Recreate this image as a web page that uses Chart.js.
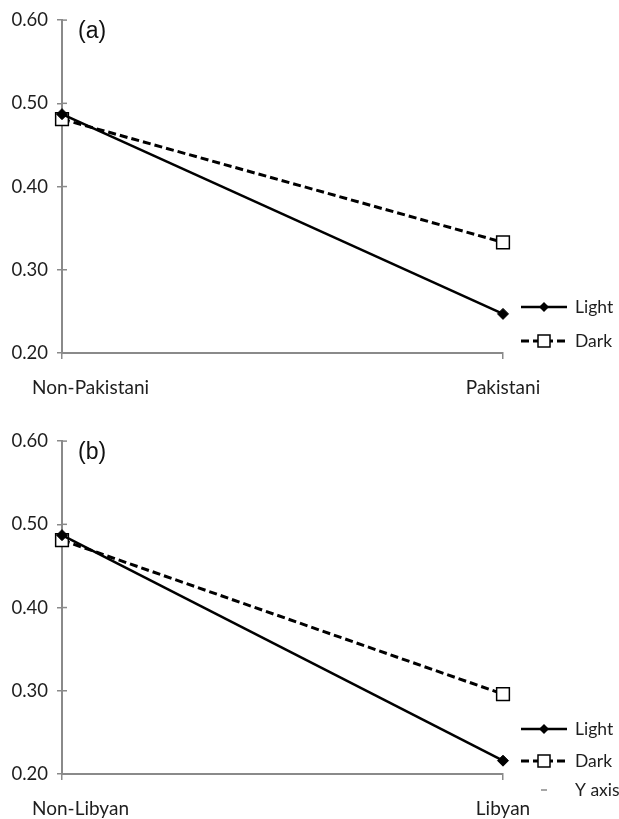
<!DOCTYPE html>
<html>
<head>
<meta charset="utf-8">
<script src="https://cdn.jsdelivr.net/npm/chart.js@4.4.1/dist/chart.umd.min.js"></script>
<style>
  html, body { margin: 0; padding: 0; background: #fff; }
  .panel { position: absolute; left: 0; width: 619px; height: 410px; }
  #wrapA { top: 0; }
  #wrapB { top: 421px; }
</style>
</head>
<body>
<div class="panel" id="wrapA"><canvas id="chartA" width="619" height="410"></canvas></div>
<div class="panel" id="wrapB"><canvas id="chartB" width="619" height="410"></canvas></div>
<script>
// Panel (a)
const categoriesA = ['Non-Pakistani', 'Pakistani'];
const lightA = [0.487, 0.247];
const darkA = [0.481, 0.333];

// Panel (b)
const categoriesB = ['Non-Libyan', 'Libyan'];
const lightB = [0.487, 0.216];
const darkB = [0.481, 0.296];

// Shared y axis
const yMin = 0.2;
const yMax = 0.6;
const yStep = 0.1;

const seriesNames = ['Light', 'Dark'];
const extraLegendB = 'Y axis';

const FONT = 'Lato, "Open Sans", sans-serif';
const AXIS_GREY = '#8a8a8a';
const TEXT = '#1e1e1e';
const DASH = [8, 4];

// Small inward halves of the y tick marks, panel letter, x labels and legend
const decorPlugin = {
  id: 'decor',
  afterDraw(chart, args, opts) {
    const ctx = chart.ctx;
    const area = chart.chartArea;
    const ys = chart.scales.y;
    const xs = chart.scales.x;
    ctx.save();
    // inward halves of y ticks
    ctx.strokeStyle = AXIS_GREY;
    ctx.lineWidth = 1.5;
    ys.ticks.forEach((t, i) => {
      const py = ys.getPixelForTick(i);
      ctx.beginPath();
      ctx.moveTo(area.left, py);
      ctx.lineTo(area.left + 5, py);
      ctx.stroke();
    });
    // panel letter
    ctx.fillStyle = '#111';
    ctx.font = '23px "Liberation Sans", Arial, sans-serif';
    ctx.textAlign = 'left';
    ctx.textBaseline = 'middle';
    ctx.fillText(opts.letter, area.left + 16, area.top + 12);
    // category labels
    ctx.fillStyle = TEXT;
    ctx.font = '19px ' + FONT;
    const labels = chart.data.labels;
    labels.forEach((lab, i) => {
      const px = xs.getPixelForValue(i);
      if (i === 0) {
        ctx.textAlign = 'left';
        ctx.fillText(lab, px - 30, area.bottom + 35);
      } else {
        ctx.textAlign = 'center';
        ctx.fillText(lab, px, area.bottom + 35);
      }
    });
    // legend
    const lx0 = area.right + 18, lx1 = area.right + 64, lxm = (lx0 + lx1) / 2;
    const tx = area.right + 72;
    ctx.textAlign = 'left';
    opts.legend.forEach(item => {
      const y = area.bottom + item.dy;
      ctx.strokeStyle = '#000';
      if (item.kind === 'light') {
        ctx.lineWidth = 2.5;
        ctx.setLineDash([]);
        ctx.beginPath(); ctx.moveTo(lx0, y); ctx.lineTo(lx1, y); ctx.stroke();
        ctx.fillStyle = '#000';
        ctx.beginPath();
        ctx.moveTo(lxm, y - 5); ctx.lineTo(lxm + 5, y); ctx.lineTo(lxm, y + 5); ctx.lineTo(lxm - 5, y);
        ctx.closePath(); ctx.fill();
      } else if (item.kind === 'dark') {
        ctx.lineWidth = 3;
        ctx.setLineDash(DASH);
        ctx.beginPath(); ctx.moveTo(lx0, y); ctx.lineTo(lx1, y); ctx.stroke();
        ctx.setLineDash([]);
        ctx.fillStyle = '#fff';
        ctx.lineWidth = 1.5;
        ctx.fillRect(lxm - 6, y - 6, 12, 12);
        ctx.strokeRect(lxm - 6, y - 6, 12, 12);
      } else {
        ctx.strokeStyle = AXIS_GREY;
        ctx.lineWidth = 1.5;
        ctx.setLineDash([]);
        ctx.beginPath(); ctx.moveTo(lxm - 3, y); ctx.lineTo(lxm + 3, y); ctx.stroke();
      }
      ctx.fillStyle = TEXT;
      ctx.font = '17.5px ' + FONT;
      ctx.textBaseline = 'middle';
      ctx.fillText(item.text, tx, y);
    });
    ctx.restore();
  }
};

function makeChart(id, categories, light, dark, letter, legend) {
  return new Chart(document.getElementById(id), {
    type: 'line',
    data: {
      labels: categories,
      datasets: [
        {
          label: seriesNames[0],
          data: light,
          borderColor: '#000',
          borderWidth: 2.5,
          pointStyle: 'rectRot',
          pointRadius: 5.5,
          pointBackgroundColor: '#000',
          pointBorderColor: '#000',
          pointBorderWidth: 1,
          tension: 0
        },
        {
          label: seriesNames[1],
          data: dark,
          borderColor: '#000',
          borderWidth: 3,
          borderDash: DASH,
          pointStyle: 'rect',
          pointRadius: 9,
          pointBackgroundColor: '#fff',
          pointBorderColor: '#000',
          pointBorderWidth: 1.5,
          tension: 0
        }
      ]
    },
    options: {
      responsive: false,
      animation: false,
      events: [],
      layout: { padding: { left: 0, top: 13, right: 116, bottom: 0 } },
      plugins: {
        legend: { display: false },
        tooltip: { enabled: false },
        decor: { letter: letter, legend: legend }
      },
      scales: {
        x: {
          type: 'category',
          offset: false,
          afterFit(scale) { scale.height = 57; },
          grid: { drawOnChartArea: false, drawTicks: true, tickLength: 6, color: AXIS_GREY, lineWidth: 1.5 },
          border: { color: AXIS_GREY, width: 2 },
          ticks: { display: false }
        },
        y: {
          min: yMin,
          max: yMax,
          afterFit(scale) { scale.width = 62; },
          grid: { drawOnChartArea: false, drawTicks: true, tickLength: 5, color: AXIS_GREY, lineWidth: 1.5 },
          border: { color: AXIS_GREY, width: 2 },
          ticks: {
            stepSize: yStep,
            padding: 9,
            color: TEXT,
            font: { family: FONT, size: 18.5 },
            callback: v => v.toFixed(2)
          }
        }
      }
    },
    plugins: [decorPlugin]
  });
}

makeChart('chartA', categoriesA, lightA, darkA, '(a)', [
  { kind: 'light', text: seriesNames[0], dy: -46 },
  { kind: 'dark', text: seriesNames[1], dy: -12 }
]);
makeChart('chartB', categoriesB, lightB, darkB, '(b)', [
  { kind: 'light', text: seriesNames[0], dy: -45 },
  { kind: 'dark', text: seriesNames[1], dy: -13 },
  { kind: 'axis', text: extraLegendB, dy: 16 }
]);
</script>
</body>
</html>
